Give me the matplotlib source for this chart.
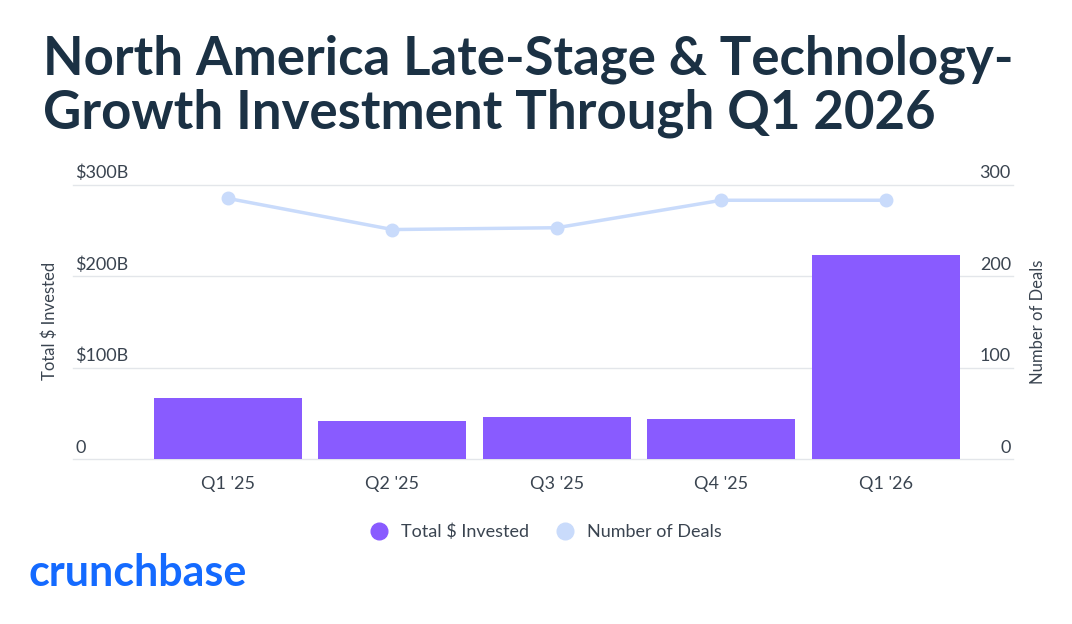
import matplotlib.pyplot as plt
import matplotlib.transforms as mtransforms

quarters = ["Q1 '25", "Q2 '25", "Q3 '25", "Q4 '25", "Q1 '26"]
invested_b = [67, 42, 46, 44, 223]
deals = [285, 251, 253, 283, 283]
left_ticks = [0, 100, 200, 300]
left_labels = ["0", "$100B", "$200B", "$300B"]
right_labels = ["0", "100", "200", "300"]

NAVY = "#1b3144"
PURPLE = "#895bff"
LIGHT = "#c9dbfb"
GREY = "#3a4450"

plt.rcParams['font.family'] = ['Lato', 'DejaVu Sans']
fig = plt.figure(figsize=(10.72, 6.24), dpi=100)
fig.text(0.04, 0.945, "North America Late-Stage & Technology-\nGrowth Investment Through Q1 2026",
         fontsize=38, fontweight='bold', color=NAVY, va='top', linespacing=1.12)

ax = fig.add_axes([0.136, 0.264, 0.767, 0.44])
ax.bar(range(len(quarters)), invested_b, width=0.9, color=PURPLE, zorder=3)
ax.set_xlim(-0.5, 4.5)
ax.set_ylim(0, 300)
ax.set_xticks(range(len(quarters)))
ax.set_xticklabels(quarters, fontsize=13, color=GREY)
ax.tick_params(axis='x', length=0, pad=12)
ax.set_yticks([])
for s in ax.spines.values():
    s.set_visible(False)

ax2 = ax.twinx()
ax2.set_ylim(0, 300)
ax2.plot(range(len(quarters)), deals, color=LIGHT, lw=2.5, marker='o', ms=9, zorder=4)
ax2.set_yticks([])
for s in ax2.spines.values():
    s.set_visible(False)

# gridlines and tick labels extending beyond the plot area
trans = mtransforms.blended_transform_factory(fig.transFigure, ax.transData)
for v, ll, rl in zip(left_ticks, left_labels, right_labels):
    ax.plot([0.068, 0.945], [v, v], transform=trans, color="#e3e6ea", lw=1,
            zorder=0, clip_on=False)
    ax.text(0.07, v + 4, ll, transform=trans, fontsize=13, color=GREY, va='bottom', ha='left')
    ax.text(0.943, v + 4, rl, transform=trans, fontsize=13, color=GREY, va='bottom', ha='right')

fig.text(0.046, 0.485, "Total $ Invested", rotation=90, fontsize=12, color=GREY,
         ha='center', va='center')
fig.text(0.968, 0.485, "Number of Deals", rotation=90, fontsize=12, color=GREY,
         ha='center', va='center')

h1 = plt.Line2D([], [], marker='o', ls='', color=PURPLE, ms=12)
h2 = plt.Line2D([], [], marker='o', ls='', color=LIGHT, ms=12)
fig.legend([h1, h2], ["Total $ Invested", "Number of Deals"], loc='center',
           bbox_to_anchor=(0.505, 0.148), ncol=2, frameon=False, fontsize=13,
           handletextpad=0.2, columnspacing=1.0, labelcolor=GREY)

fig.text(0.027, 0.05, "crunchbase", fontsize=31, fontweight='bold', color="#146aff",
         va='bottom', ha='left')

fig.savefig("out.png", dpi=100)
